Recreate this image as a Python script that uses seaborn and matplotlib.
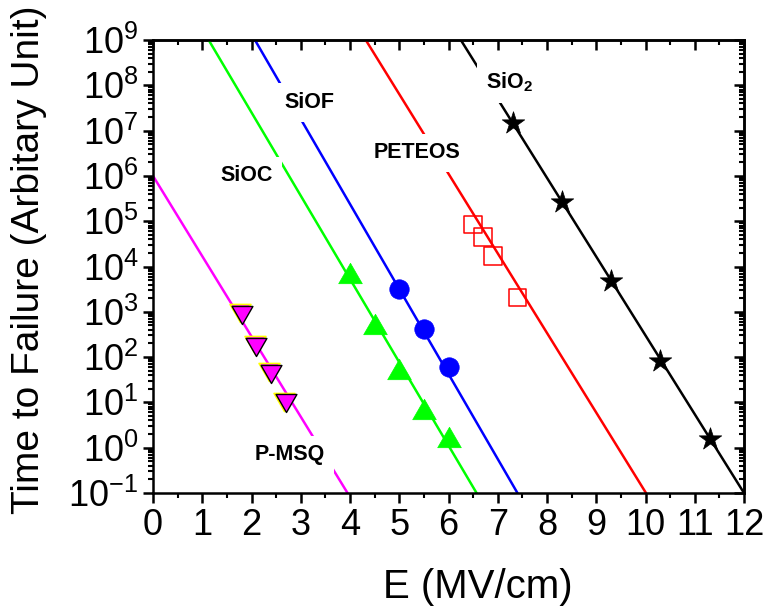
import numpy as np
import matplotlib
matplotlib.use("Agg")
import matplotlib.pyplot as plt
from matplotlib.path import Path
from matplotlib.ticker import MultipleLocator, LogLocator, NullFormatter
from matplotlib.transforms import offset_copy
import seaborn as sns
import pandas as pd

# fitted lines, two end points each (E in MV/cm, time in arbitrary unit)
line_names = ['P-MSQ', 'SiOC', 'SiOF', 'PETEOS', 'SiO2']
line_e_start = [0.0, 1.13, 2.07, 4.32, 6.25]
line_e_stop = [3.95, 6.57, 7.40, 10.01, 12.0]
line_t_start = [1e6, 1e9, 1e9, 1e9, 1e9]
line_t_stop = [1e-1, 1e-1, 1e-1, 1e-1, 1e-1]
line_colors = ['#ff00ff', '#00ff00', '#0000ff', '#ff0000', '#000000']

# measured points
pmsq_e = [1.8, 2.1, 2.4, 2.7]
pmsq_t = [850, 170, 42, 9.5]
sioc_e = [4.0, 4.5, 5.0, 5.5, 6.0]
sioc_t = [7200, 540, 55, 7.1, 1.7]
siof_e = [5.0, 5.5, 6.0]
siof_t = [3200, 420, 62]
peteos_e = [6.5, 6.7, 6.9, 7.4]
peteos_t = [85000, 45000, 17000, 2100]
sio2_e = [7.3, 8.3, 9.3, 10.3, 11.3]
sio2_t = [1.5e7, 2.7e5, 4800, 82, 1.55]

sns.set_theme(style='ticks', rc={'axes.edgecolor': 'black', 'xtick.color': 'black',
                                 'ytick.color': 'black', 'text.color': 'black',
                                 'axes.labelcolor': 'black'})
plt.rcParams['font.family'] = ['Liberation Sans', 'DejaVu Sans']
plt.rcParams['mathtext.fontset'] = 'custom'
plt.rcParams['mathtext.rm'] = 'Liberation Sans'
plt.rcParams['mathtext.it'] = 'Liberation Sans:italic'
plt.rcParams['mathtext.bf'] = 'Liberation Sans:bold'
plt.rcParams['axes.unicode_minus'] = False

fig = plt.figure(figsize=(7.67, 6.11), dpi=100)
ax = fig.add_axes([153 / 767, 118 / 611, 591 / 767, 453 / 611])
ax.set_yscale('log')

rows = []
for i, n in enumerate(line_names):
    rows.append((n, line_e_start[i], line_t_start[i]))
    rows.append((n, line_e_stop[i], line_t_stop[i]))
lines = pd.DataFrame(rows, columns=['name', 'E', 't'])
sns.lineplot(data=lines, x='E', y='t', hue='name', hue_order=line_names,
             palette=dict(zip(line_names, line_colors)), estimator=None,
             sort=False, legend=False, linewidth=1.8, ax=ax, zorder=2)

# equilateral triangles like Origin's
tri_up = Path([(0, 0.433), (-0.5, -0.433), (0.5, -0.433), (0, 0.433)], closed=True)
tri_dn = Path([(0, -0.433), (-0.5, 0.433), (0.5, 0.433), (0, -0.433)], closed=True)

# P-MSQ: yellow shadow then the marker itself
sns.scatterplot(x=pmsq_e, y=pmsq_t, marker=tri_dn, s=15 ** 2, color='#ff00ff',
                edgecolor='#ffff00', linewidth=1.2, ax=ax, zorder=4)
ax.collections[-1].set_offset_transform(
    offset_copy(ax.transData, fig=fig, x=-1.3, y=1.3, units='points'))
sns.scatterplot(x=pmsq_e, y=pmsq_t, marker=tri_dn, s=15 ** 2, color='#ff00ff',
                edgecolor='black', linewidth=1.0, ax=ax, zorder=5)

sns.scatterplot(x=sioc_e, y=sioc_t, marker=tri_up, s=17 ** 2, color='#00ff00',
                edgecolor='#00ff00', linewidth=0.5, ax=ax, zorder=5)
sns.scatterplot(x=siof_e, y=siof_t, marker='o', s=14 ** 2, color='#0000ff',
                edgecolor='#0000ff', linewidth=0.5, ax=ax, zorder=5)
sns.scatterplot(x=peteos_e, y=peteos_t, marker='s', s=12.5 ** 2, facecolors='none',
                edgecolors='#ff0000', linewidth=1.1, ax=ax, zorder=5)
sns.scatterplot(x=sio2_e, y=sio2_t, marker='*', s=17 ** 2, color='black',
                edgecolor='black', linewidth=0.5, ax=ax, zorder=5)

# labels sit on white boxes so the fit lines break around them
box = dict(boxstyle='square,pad=0.4', fc='white', ec='none')
for txt, x, y in [('SiOF', 3.18, 10 ** 7.62), ('SiOC', 1.91, 10 ** 6.0),
                  ('PETEOS', 5.37, 10 ** 6.51), (r'SiO$_\mathbf{2}$', 7.23, 10 ** 8.07),
                  ('P-MSQ', 2.78, 10 ** -0.16)]:
    ax.text(x, y, txt, fontsize=15.5, fontweight='bold', ha='center', va='center',
            bbox=box, zorder=3)

ax.set_xlim(0, 12)
ax.set_ylim(1e-1, 1e9)
ax.xaxis.set_major_locator(MultipleLocator(1))
ax.xaxis.set_minor_locator(MultipleLocator(0.5))
ax.yaxis.set_major_locator(LogLocator(base=10, numticks=20))
ax.yaxis.set_minor_locator(LogLocator(base=10, subs=np.arange(2, 10), numticks=20))
ax.yaxis.set_minor_formatter(NullFormatter())
ax.tick_params(which='major', direction='out', length=7, width=1.8, labelsize=26, pad=3.5)
ax.tick_params(which='minor', direction='out', length=3.5, width=1.5)
for s in ax.spines.values():
    s.set_visible(True)
    s.set_linewidth(1.8)
    s.set_color('black')

top = ax.secondary_xaxis('top')
top.xaxis.set_major_locator(MultipleLocator(1))
top.xaxis.set_minor_locator(MultipleLocator(0.5))
top.tick_params(which='major', direction='in', length=7, width=1.8, labeltop=False)
top.tick_params(which='minor', direction='in', length=3.5, width=1.5)
right = ax.secondary_yaxis('right')
right.yaxis.set_major_locator(LogLocator(base=10, numticks=20))
right.yaxis.set_minor_locator(LogLocator(base=10, subs=np.arange(2, 10), numticks=20))
right.yaxis.set_minor_formatter(NullFormatter())
right.tick_params(which='major', direction='in', length=7, width=1.8, labelright=False)
right.tick_params(which='minor', direction='in', length=3.5, width=1.5)
for sa in (top, right):
    for s in sa.spines.values():
        s.set_linewidth(1.8)

ax.set_xlabel('E (MV/cm)', fontsize=29)
ax.xaxis.set_label_coords(0.549, -0.166)
ax.set_ylabel('Time to Failure (Arbitary Unit)', fontsize=28)
ax.yaxis.set_label_coords(-0.21, 0.514)
ax.yaxis.label.set_va('center')

fig.savefig('out.png', dpi=100)
